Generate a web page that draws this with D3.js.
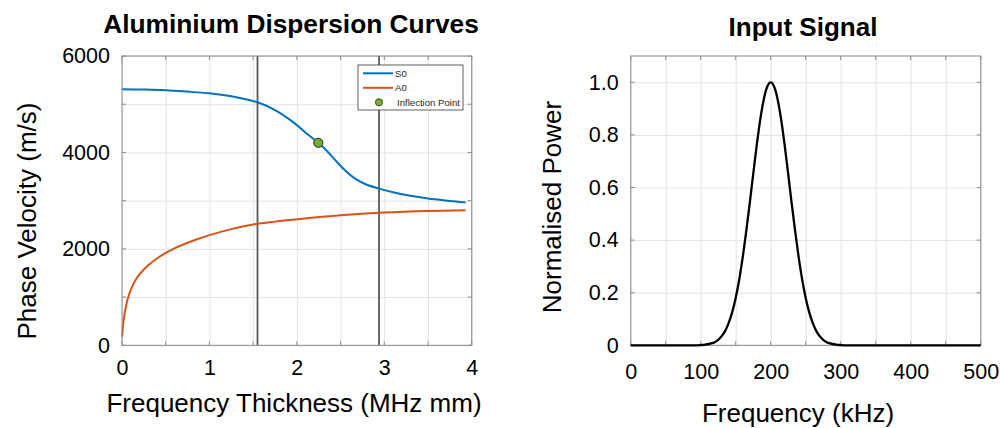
<!DOCTYPE html>
<html>
<head>
<script src="https://d3js.org/d3.v7.min.js"></script>
<style>
  body { margin: 0; background: #fff; font-family: 'Liberation Sans', Arial, sans-serif; }
  svg text { fill: #000; }
  .grid line { stroke: #e3e3e3; stroke-width: 1; }
  .grid .domain { display: none; }
  .ticks .domain { display: none; }
  .ticks line { display: none; }
</style>
</head>
<body>
<div id="chart"></div>
<script>
// S0 / A0 dispersion (frequency-thickness in MHz mm, phase velocity in m/s)
const s0Fd  = [0, 0.25, 0.5, 0.75, 1.0, 1.25, 1.4, 1.55, 1.75, 1.95, 2.1, 2.245, 2.35, 2.45, 2.55, 2.68, 2.8, 2.93, 3.1, 3.3, 3.5, 3.75, 3.93];
const s0Vel = [5310, 5305, 5292, 5262, 5225, 5165, 5110, 5040, 4880, 4640, 4410, 4200, 4020, 3820, 3630, 3440, 3330, 3255, 3175, 3100, 3045, 2995, 2962];

const a0Fd  = [0.0025, 0.01, 0.025, 0.05, 0.075, 0.1, 0.15, 0.2, 0.3, 0.4, 0.5, 0.6, 0.7, 0.85, 1.0, 1.25, 1.5, 1.75, 2.0, 2.5, 3.0, 3.5, 3.93];
const a0Vel = [180, 380, 600, 850, 1020, 1150, 1340, 1470, 1660, 1800, 1915, 2010, 2090, 2195, 2285, 2410, 2505, 2565, 2613, 2696, 2752, 2785, 2800];

const cutoffLines = [1.55, 2.94];
const inflection = { fd: 2.245, vel: 4200 };
const legendLabels = ["S0", "A0", "Inflection Point"];

// input signal spectrum
const freqKHz = [0, 90, 100, 105, 110, 115, 120, 125, 130, 135, 140, 145, 150, 155, 160, 165, 170, 175, 180, 185, 190, 195, 200,
                 205, 210, 215, 220, 225, 230, 235, 240, 245, 250, 255, 260, 265, 270, 275, 280, 285, 290, 295, 300, 310, 500];
const power   = [0, 0, 0.001, 0.002, 0.004, 0.007, 0.012, 0.021, 0.035, 0.055, 0.085, 0.126, 0.18, 0.249, 0.334, 0.432, 0.539, 0.651, 0.76, 0.857, 0.934, 0.983, 1.0,
                 0.983, 0.934, 0.857, 0.76, 0.651, 0.539, 0.432, 0.334, 0.249, 0.18, 0.126, 0.085, 0.055, 0.035, 0.021, 0.012, 0.007, 0.004, 0.002, 0.001, 0, 0];

const leftTicksX = d3.range(0, 4.01, 0.5);
const leftTicksY = d3.range(0, 6001, 1000);
const rightTicksX = d3.range(0, 501, 50);
const rightTicksY = [0, 0.2, 0.4, 0.6, 0.8, 1.0];

const svg = d3.select("#chart").append("svg")
    .attr("width", 1000).attr("height", 428);

const axisColor = "#8c8c8c";

function frame(g, x, y, xTicks, yTicks) {
    const [x0, x1] = x.range();
    const [y0, y1] = y.range();
    // grid
    g.append("g").attr("class", "grid")
        .attr("transform", `translate(0,${y0})`)
        .call(d3.axisBottom(x).tickValues(xTicks).tickSize(-(y0 - y1)).tickFormat(""));
    g.append("g").attr("class", "grid")
        .attr("transform", `translate(${x0},0)`)
        .call(d3.axisLeft(y).tickValues(yTicks).tickSize(-(x1 - x0)).tickFormat(""));
    // inward tick marks on all sides
    const tk = g.append("g").attr("stroke", axisColor).attr("stroke-width", 1);
    xTicks.forEach(t => {
        tk.append("line").attr("x1", x(t)).attr("x2", x(t)).attr("y1", y0).attr("y2", y0 - 4);
        tk.append("line").attr("x1", x(t)).attr("x2", x(t)).attr("y1", y1).attr("y2", y1 + 4);
    });
    yTicks.forEach(t => {
        tk.append("line").attr("x1", x0).attr("x2", x0 + 4).attr("y1", y(t)).attr("y2", y(t));
        tk.append("line").attr("x1", x1).attr("x2", x1 - 4).attr("y1", y(t)).attr("y2", y(t));
    });
}

function box(g, x, y) {
    const [x0, x1] = x.range();
    const [y0, y1] = y.range();
    g.append("rect")
        .attr("x", x0).attr("y", y1)
        .attr("width", x1 - x0).attr("height", y0 - y1)
        .attr("fill", "none").attr("stroke", axisColor).attr("stroke-width", 1);
}

function tickLabels(g, x, y, xVals, xFmt, yVals, yFmt, xPad) {
    const [x0] = x.range();
    const [y0] = y.range();
    g.append("g").attr("class", "ticks")
        .attr("transform", `translate(0,${y0})`)
        .call(d3.axisBottom(x).tickValues(xVals).tickFormat(xFmt).tickSize(0).tickPadding(xPad))
        .selectAll("text").attr("font-size", 21.5).attr("font-family", "Liberation Sans");
    g.append("g").attr("class", "ticks")
        .attr("transform", `translate(${x0},0)`)
        .call(d3.axisLeft(y).tickValues(yVals).tickFormat(yFmt).tickSize(0).tickPadding(12))
        .selectAll("text").attr("font-size", 21.5).attr("font-family", "Liberation Sans");
}

// ---------- left panel: dispersion curves ----------
const xL = d3.scaleLinear().domain([0, 4]).range([122, 471.7]);
const yL = d3.scaleLinear().domain([0, 6000]).range([345.3, 56]);
const gL = svg.append("g");

frame(gL, xL, yL, leftTicksX, leftTicksY);

const lineL = d3.line().x(d => xL(d[0])).y(d => yL(d[1])).curve(d3.curveCatmullRom.alpha(0.5));

gL.selectAll(".cutoff").data(cutoffLines).join("line")
    .attr("class", "cutoff")
    .attr("x1", d => xL(d)).attr("x2", d => xL(d))
    .attr("y1", yL(0)).attr("y2", yL(6000))
    .attr("stroke", "#595959").attr("stroke-width", 1.8);

gL.append("path")
    .datum(d3.zip(s0Fd, s0Vel))
    .attr("d", lineL)
    .attr("fill", "none").attr("stroke", "#0072BD").attr("stroke-width", 2);

gL.append("path")
    .datum(d3.zip(a0Fd, a0Vel))
    .attr("d", lineL)
    .attr("fill", "none").attr("stroke", "#D95319").attr("stroke-width", 2);

gL.append("circle")
    .attr("cx", xL(inflection.fd)).attr("cy", yL(inflection.vel))
    .attr("r", 4.6)
    .attr("fill", "#77AC30").attr("stroke", "#2b2b2b").attr("stroke-width", 1);

box(gL, xL, yL);

tickLabels(gL, xL, yL, [0, 1, 2, 3, 4], d3.format("d"), [0, 2000, 4000, 6000], d3.format("d"), 14);

// legend
const leg = gL.append("g").attr("transform", "translate(358,65)");
leg.append("rect").attr("width", 105).attr("height", 45)
    .attr("fill", "#fff").attr("stroke", "#3a3a3a").attr("stroke-width", 0.8);
const legColors = ["#0072BD", "#D95319"];
legendLabels.forEach((lab, i) => {
    const cy = 8.3 + i * 14.5;
    if (i < 2) {
        leg.append("line").attr("x1", 5).attr("x2", 35).attr("y1", cy).attr("y2", cy)
            .attr("stroke", legColors[i]).attr("stroke-width", 2);
    } else {
        leg.append("circle").attr("cx", 21).attr("cy", cy).attr("r", 3.6)
            .attr("fill", "#77AC30").attr("stroke", "#2b2b2b").attr("stroke-width", 0.8);
    }
    leg.append("text").attr("x", i < 2 ? 37 : 39).attr("y", cy + 3.4)
        .attr("font-size", 9.6).style("fill", "#262626").text(lab);
});

gL.append("text")
    .attr("x", 291).attr("y", 33)
    .attr("text-anchor", "middle")
    .attr("font-size", 26.3).attr("font-weight", "bold")
    .text("Aluminium Dispersion Curves");

gL.append("text")
    .attr("x", 294).attr("y", 412)
    .attr("text-anchor", "middle")
    .attr("font-size", 26)
    .text("Frequency Thickness (MHz mm)");

gL.append("text")
    .attr("transform", "translate(36,221) rotate(-90)")
    .attr("text-anchor", "middle")
    .attr("font-size", 26)
    .text("Phase Velocity (m/s)");

// ---------- right panel: input signal ----------
const xR = d3.scaleLinear().domain([0, 500]).range([630.7, 980.7]);
const yR = d3.scaleLinear().domain([0, 1.1]).range([345.3, 56]);
const gR = svg.append("g");

frame(gR, xR, yR, rightTicksX, rightTicksY);
box(gR, xR, yR);

gR.append("path")
    .datum(d3.zip(freqKHz, power))
    .attr("d", d3.line().x(d => xR(d[0])).y(d => yR(d[1])).curve(d3.curveMonotoneX))
    .attr("fill", "none").attr("stroke", "#000").attr("stroke-width", 2.3);

tickLabels(gR, xR, yR, [0, 100, 200, 300, 400, 500], d3.format("d"),
    rightTicksY, d => d === 0 ? "0" : d3.format(".1f")(d), 18);

gR.append("text")
    .attr("x", 803).attr("y", 36)
    .attr("text-anchor", "middle")
    .attr("font-size", 26).attr("font-weight", "bold")
    .text("Input Signal");

gR.append("text")
    .attr("x", 798).attr("y", 422)
    .attr("text-anchor", "middle")
    .attr("font-size", 26)
    .text("Frequency (kHz)");

gR.append("text")
    .attr("transform", "translate(561,207) rotate(-90)")
    .attr("text-anchor", "middle")
    .attr("font-size", 26)
    .text("Normalised Power");
</script>
</body>
</html>
